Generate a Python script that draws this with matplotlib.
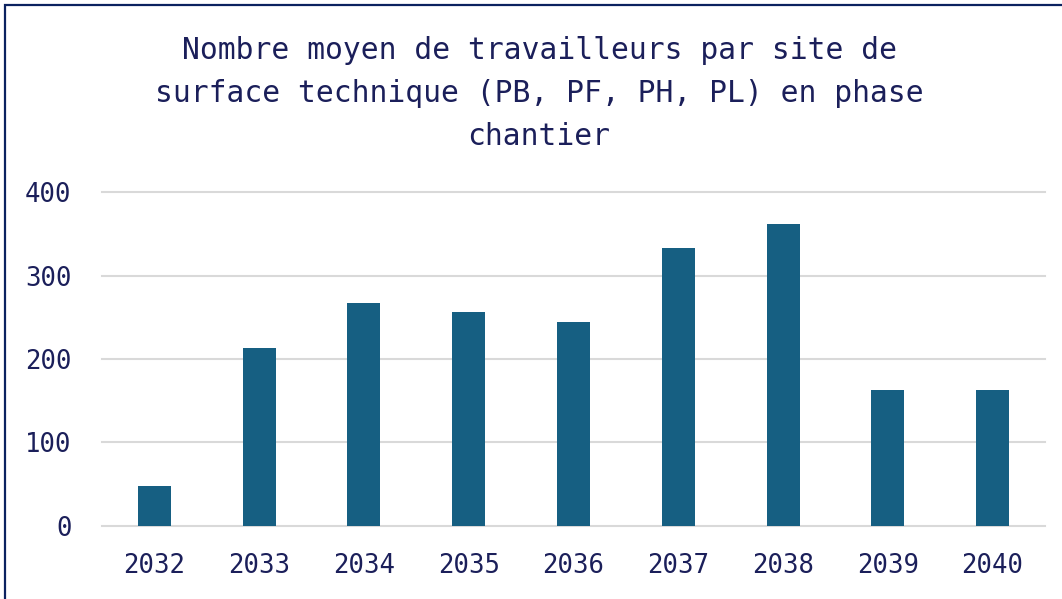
import matplotlib.pyplot as plt
from matplotlib.patches import Rectangle

annees = ["2032", "2033", "2034", "2035", "2036", "2037", "2038", "2039", "2040"]
travailleurs = [48, 213, 267, 257, 245, 333, 362, 163, 163]

titre = ("Nombre moyen de travailleurs par site de\n"
         "surface technique (PB, PF, PH, PL) en phase\n"
         "chantier")

texte = "#1b1f5a"
barre = "#165f82"

plt.rcParams["font.family"] = ["DejaVu Sans Mono"]

fig = plt.figure(figsize=(10.62, 5.99), dpi=100)
ax = fig.add_axes([102 / 1062, 1 - 525.7 / 599, 943 / 1062, (525.7 - 175) / 599])

x = range(len(annees))
ax.bar(x, travailleurs, width=0.315, color=barre, zorder=3)

ax.set_xlim(-0.5, len(annees) - 0.5)
ax.set_ylim(0, 421)
ax.set_yticks([0, 100, 200, 300, 400])
ax.set_xticks(list(x))
ax.set_xticklabels(annees)
ax.grid(axis="y", color="#d9d9d9", linewidth=1.5, zorder=0)
for g in ax.get_ygridlines():
    g.set_clip_on(False)
for s in ax.spines.values():
    s.set_visible(False)
ax.tick_params(length=0, labelsize=18.5, labelcolor=texte)
ax.tick_params(axis="x", pad=20)
ax.tick_params(axis="y", pad=22)

fig.text(539 / 1062, 1 - 93.5 / 599, titre, ha="center", va="center",
         fontsize=21.3, color=texte, linespacing=1.62)

# cadre autour du graphique
fig.patches.append(Rectangle((5 / 1062, -0.2), 1.2, 1.2 - 5 / 599,
                             transform=fig.transFigure, fill=False,
                             edgecolor="#0b2260", linewidth=1.6))

fig.savefig("out.png", dpi=100)
